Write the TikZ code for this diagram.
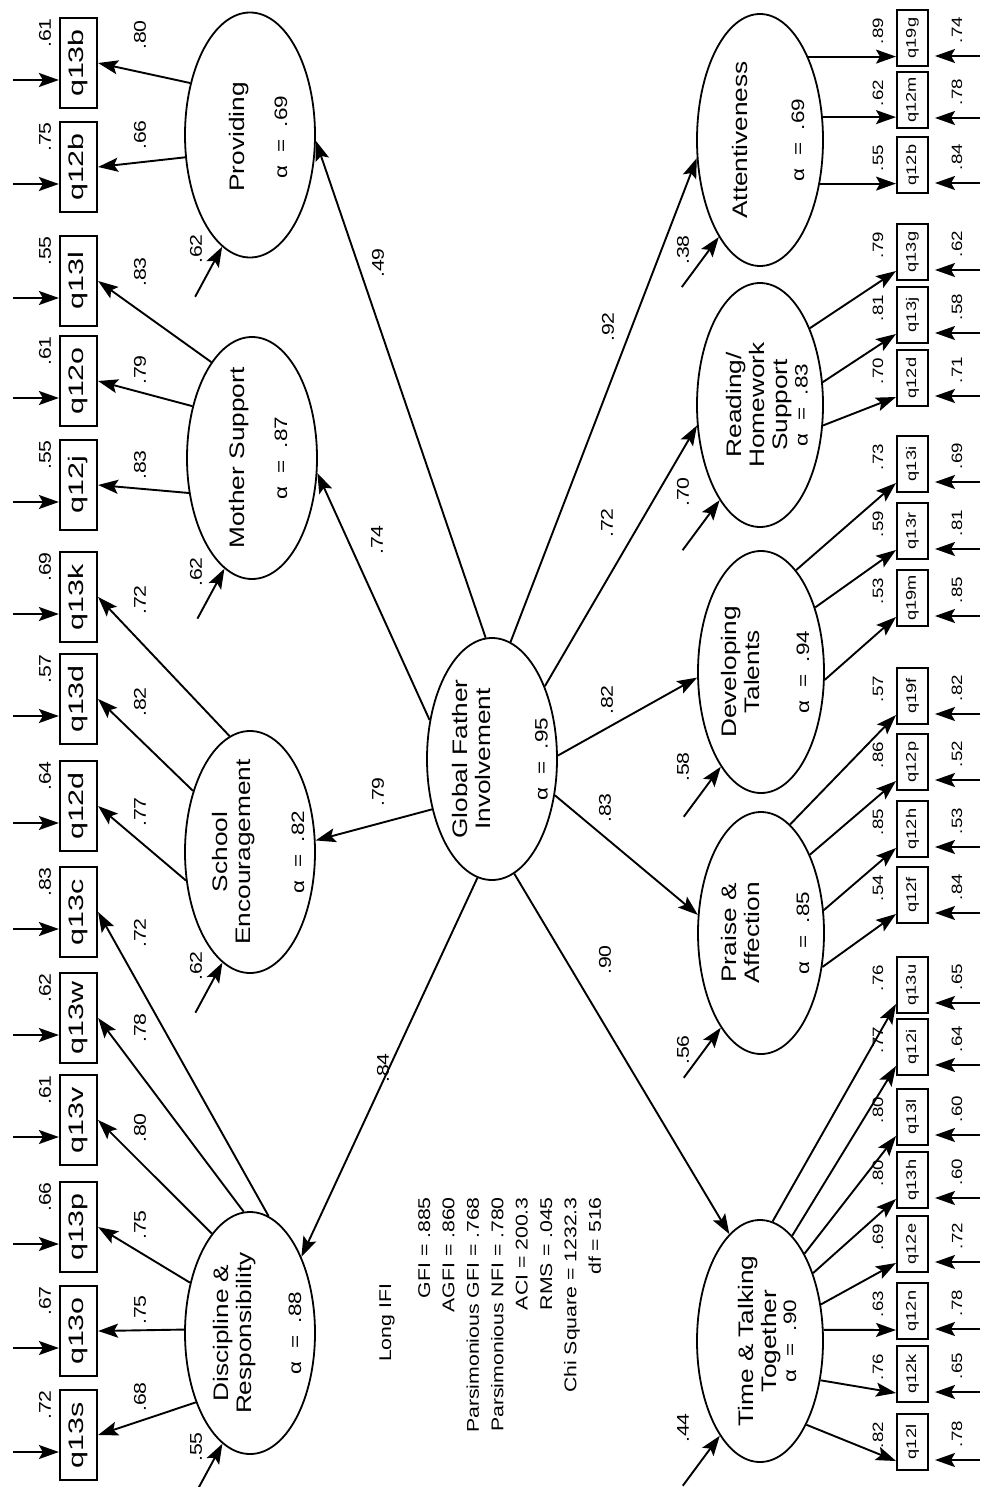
\documentclass[tikz,border=0pt]{standalone}
\usepackage{fontspec}
\setmainfont{Liberation Sans}
\usepackage{graphicx}
\usetikzlibrary{arrows.meta,shapes.geometric,calc}
\newcommand{\Rb}[2]{\rotatebox{90}{\scalebox{#1}[1]{#2}}}
\newcommand{\al}[1]{{\fontsize{18}{20}\selectfont α~ = ~#1}}
\tikzset{
 lat/.style={draw, ellipse, line width=1.8pt, minimum width=130pt, minimum height=242pt, inner sep=0pt},
 latr/.style={lat, minimum width=126pt},
 boxl/.style={draw, line width=2.2pt, minimum width=37pt, minimum height=90pt, inner sep=0pt, font=\fontsize{21}{23}\selectfont},
 boxr/.style={draw, line width=2pt, minimum width=31pt, minimum height=56pt, inner sep=0pt, font=\fontsize{14}{16}\selectfont},
 arr/.style={-{Stealth[length=20pt,width=14pt,inset=4pt]}, line width=1.9pt},
 lbl/.style={rotate=90, xscale=1.25, inner sep=0pt, font=\fontsize{17}{19}\selectfont},
 lbls/.style={lbl, font=\fontsize{15}{17}\selectfont},
 ltxt/.style={rotate=90, xscale=1.25, inner sep=0pt, align=center, font=\fontsize{21}{23}\selectfont},
 fitxt/.style={rotate=90, xscale=1.25, inner sep=0pt, align=right, font=\fontsize{17}{24.4}\selectfont},
}
\begin{document}
\begin{tikzpicture}[x=1pt,y=-1pt]
\fill[white] (0,0) rectangle (981,1487);
\useasboundingbox (0,0) rectangle (981,1487);

% latent variables
\node[lat, minimum height=245pt] (prov) at (250,135) {};
\node[lat] (moth) at (252,458) {};
\node[lat] (scho) at (250,852) {};
\node[lat] (disc) at (250,1333) {};
\node[lat] (gfi) at (492,759) {};
\node[latr, minimum height=252pt] (att) at (760,140) {};
\node[latr, minimum height=244pt] (read) at (760,405) {};
\node[latr] (dev) at (761,672) {};
\node[latr] (prai) at (761,933) {};
\node[latr] (time) at (760,1341) {};

\node[ltxt] (prov-t) at (258,137) {Providing\\[20pt]\al{.69}};
\node[ltxt] (moth-t) at (258,458) {Mother Support\\[20pt]\al{.87}};
\node[ltxt] (scho-t) at (258,852) {School\\Encouragement\\[31pt]\al{.82}};
\node[ltxt] (disc-t) at (257,1333) {Discipline \&\\Responsibility\\[27pt]\al{.88}};
\node[ltxt] (gfi-t) at (500,759) {Global Father\\Involvement\\[34pt]\al{.95}};
\node[ltxt] (att-t) at (768,140) {Attentiveness\\[34pt]\al{.69}};
\node[ltxt] (read-t) at (767,405) {Reading/\\Homework\\Support\\[-3pt]\al{.83}};
\node[ltxt] (dev-t) at (765,672) {Developing\\Talents\\[27pt]\al{.94}};
\node[ltxt] (prai-t) at (765,933) {Praise \&\\Affection\\[27pt]\al{.85}};
\node[ltxt] (time-t) at (767,1341) {Time \& Talking\\Together\\[-3pt]\al{.90}};

% left indicators
\foreach \i/\n/\y/\e/\l/\ly in {1/q13b/63/.61/.80/35, 2/q12b/167/.75/.66/135, 3/q13l/281/.55/.83/272,
 4/q12o/381/.61/.79/370, 5/q12j/485/.55/.83/465, 6/q13k/597/.69/.72/600, 7/q13d/699/.57/.82/702,
 8/q12d/806/.64/.77/812, 9/q13c/912/.83/.72/933, 10/q13w/1018/.62/.78/1028, 11/q13v/1120/.61/.80/1128,
 12/q13p/1227/.66/.75/1225, 13/q13o/1331/.67/.75/1310, 14/q13s/1435/.72/.68/1397}{
 \node[boxl] (l\i) at (78.5,\y) {\Rb{1.45}{\n}};
 \coordinate (le\i) at (13,{\y+17});
 \draw[arr] (le\i) -- (le\i -| l\i.west);
 \node[lbl] (lel\i) at (45,{\y-30}) {\e};
 \node[lbl] (lll\i) at (140,\ly) {\l};
}
\foreach \s/\i in {prov.139/1, prov.199/2, moth.113/3, moth.139/4, moth.209/5, scho.100/6, scho.133/7,
 scho.204/8, disc.81/9, disc.93/10, disc.111/11, disc.140/12, disc.177/13, disc.232/14}{
 \draw[arr] (\s) -- (l\i.east);
}

% right indicators
\foreach \i/\n/\y/\l/\e in {1/q19g/38/.89/.74, 2/q12m/100/.62/.78, 3/q12b/165/.55/.84, 4/q13g/252/.79/.62,
 5/q13j/315/.81/.58, 6/q12d/378/.70/.71, 7/q13i/464/.73/.69, 8/q13r/531/.59/.81, 9/q19m/598/.53/.85,
 10/q19f/696/.57/.82, 11/q12p/762/.86/.52, 12/q12h/829/.85/.53, 13/q12f/895/.54/.84, 14/q13u/985/.76/.65,
 15/q12i/1047/.77/.64, 16/q13l/1117/.80/.60, 17/q13h/1180/.80/.60, 18/q12e/1244/.69/.72,
 19/q12n/1311/.63/.78, 20/q12k/1374/.76/.65, 21/q12l/1442/.82/.78}{
 \node[boxr] (r\i) at (912.5,\y) {\Rb{1.3}{\n}};
 \coordinate (re\i) at (980,{\y+18});
 \draw[arr, shorten >=6pt] (re\i) -- (re\i -| r\i.east);
 \node[lbls] (rel\i) at (957,{\y-8}) {\e};
 \node[lbls] (rll\i) at (878,{\y-7}) {\l};
}
\foreach \s/\i in {att.60/1, att.20/2, att.324/3}{
 \draw[arr] (\s) -- (\s -| r\i.west);
}
\foreach \s/\i in {read.57/4, read.20/5, read.342/6, dev.71/7, dev.50/8, dev.353/9,
 prai.75/10, prai.58/11, prai.20/12, prai.331/13, time.84/14, time.73/15, time.63/16,
 time.52/17, time.31/18, time.10/19, time.327/20, time.299/21}{
 \draw[arr] (\s) -- ([yshift=10pt]r\i.south west);
}

% structural paths
\draw[arr] (gfi.93) -- (prov.355);
\draw[arr] (gfi.148) -- (moth.347);
\draw[arr] (gfi.220) -- (scho.10);
\draw[arr] (gfi.263) -- (disc.56);
\draw[arr] (gfi.81) -- (att.196);
\draw[arr] (gfi.54) -- (read.198);
\draw[arr] (gfi.3) -- (dev.185);
\draw[arr] (gfi.330) -- (prai.164);
\draw[arr] (gfi.281) -- (time.106);
\node[lbl] (p1) at (378,263) {.49};
\node[lbl] (p2) at (377,540) {.74};
\node[lbl] (p3) at (378,792) {.79};
\node[lbl] (p4) at (383,1068) {.84};
\node[lbl] (p5) at (608,327) {.92};
\node[lbl] (p6) at (607,523) {.72};
\node[lbl] (p7) at (607,700) {.82};
\node[lbl] (p8) at (605,808) {.83};
\node[lbl] (p9) at (605,960) {.90};

% disturbances
\foreach \n/\v/\ly in {prov/.62/249, moth/.62/572, scho/.62/966, disc/.55/1447}{
 \coordinate (d\n) at ($(\n.256)+(-27,50)$);
 \draw[arr] (d\n) -- (\n.256);
 \node[lbl] (dl\n) at (196,\ly) {\v};
}
\foreach \n/\v/\ly in {att/.38/250, read/.70/492, dev/.58/767, prai/.56/1050, time/.44/1428}{
 \coordinate (d\n) at ($(\n.247)+(-37,50)$);
 \draw[arr] (d\n) -- (\n.247);
 \node[lbl] (dl\n) at (683,\ly) {\v};
}

% fit indices
\node[fitxt, anchor=center] (longifi) at (387,1323) {Long IFI};
\node[fitxt, anchor=north east] (fitidx) at (418,1197) {GFI = .885\\AGFI = .860\\Parsimonious GFI = .768\\Parsimonious NFI = .780\\ACI = 200.3\\RMS = .045\\Chi Square = 1232.3\\df = 516};
\end{tikzpicture}
\end{document}
